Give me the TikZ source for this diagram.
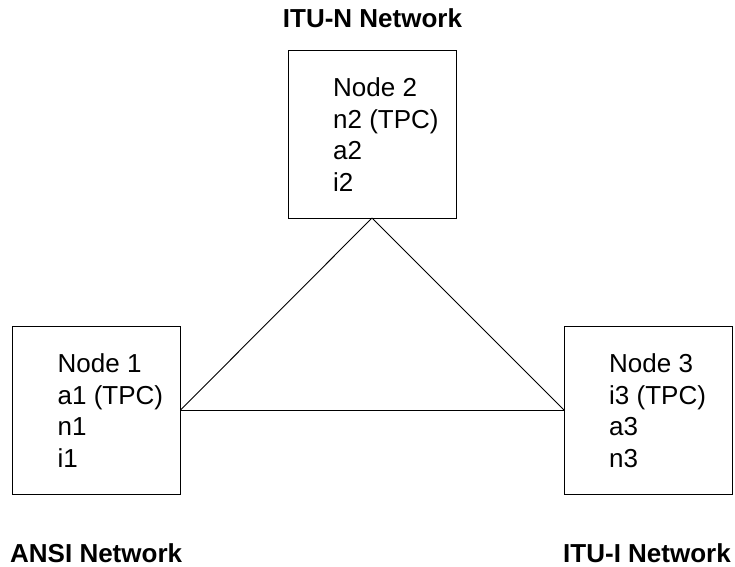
\documentclass[tikz,border=0pt]{standalone}
\usepackage{fontspec}
\setmainfont{Liberation Sans}
\begin{document}
\begin{tikzpicture}[x=1pt,y=-1pt,
  nodebox/.style={draw,line width=0.9pt,minimum width=168pt,minimum height=168pt,inner sep=0pt,outer sep=0pt},
  nodetext/.style={anchor=north west,align=left,inner sep=0pt,font=\fontsize{26}{31.5}\selectfont},
  netlabel/.style={inner sep=0pt,font=\fontsize{26}{31}\selectfont\bfseries},
  link/.style={line width=0.9pt}]
\useasboundingbox (0,0) rectangle (735,566);
\node[nodebox] (n2) at (372,134) {};
\node[nodebox] (n1) at (96.5,410) {};
\node[nodebox] (n3) at (648,410) {};
\node[nodetext] (t2) at ([xshift=45pt,yshift=-27.5pt]n2.north west) {Node 2\\n2 (TPC)\\a2\\i2};
\node[nodetext] (t1) at ([xshift=45pt,yshift=-27.5pt]n1.north west) {Node 1\\a1 (TPC)\\n1\\i1};
\node[nodetext] (t3) at ([xshift=45pt,yshift=-27.5pt]n3.north west) {Node 3\\i3 (TPC)\\a3\\n3};
\node[netlabel,anchor=base] (l2) at (372.5,27) {ITU-N Network};
\node[netlabel,anchor=base west] (l1) at (10,562) {ANSI Network};
\node[netlabel,anchor=base west] (l3) at (563,562) {ITU-I Network};
\draw[link] (n2.south) -- (n1.east);
\draw[link] (n1.east) -- (n3.west);
\draw[link] (n3.west) -- (n2.south);
\end{tikzpicture}
\end{document}
